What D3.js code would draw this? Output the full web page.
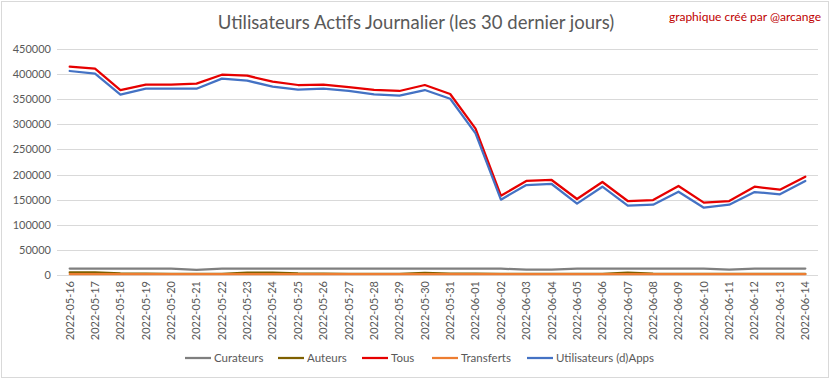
<!DOCTYPE html>
<html><head><meta charset="utf-8">
<script src="https://cdn.jsdelivr.net/npm/d3@7"></script>
<style>body{margin:0;background:#fff}svg{display:block}</style>
</head><body><svg id="c" width="833" height="379"></svg>
<script>
const dates = ["2022-05-16","2022-05-17","2022-05-18","2022-05-19","2022-05-20","2022-05-21","2022-05-22","2022-05-23","2022-05-24","2022-05-25","2022-05-26","2022-05-27","2022-05-28","2022-05-29","2022-05-30","2022-05-31","2022-06-01","2022-06-02","2022-06-03","2022-06-04","2022-06-05","2022-06-06","2022-06-07","2022-06-08","2022-06-09","2022-06-10","2022-06-11","2022-06-12","2022-06-13","2022-06-14"];
const curateurs = [12800,12700,12600,12600,12500,10300,12500,12700,12700,12600,12600,12500,12500,12500,12600,12500,12500,12500,10600,10500,12600,12600,12600,12600,12600,12500,10600,12600,12700,12700];
const auteurs = [5400,5200,3000,2500,2400,2300,2400,4500,4800,3000,2500,2400,2400,2400,4000,2600,2800,2200,2200,2200,2200,2300,4500,2600,2300,2200,2200,2200,2200,2200];
const tous = [414700,410800,368300,379000,379000,381000,398800,396800,384900,378300,379000,374300,368400,366400,378300,360400,291300,157900,187200,189200,151300,185200,147300,149300,177200,144000,147300,175800,169900,195700];
const transferts = [1800,1800,1700,1700,1700,1700,1700,1700,1700,1700,1700,1700,1700,1700,1700,1700,1700,1700,1700,1700,1700,1700,1700,1700,1700,1700,1700,1700,1700,1700];
const utilisateurs = [406200,400800,359000,371000,371000,371000,391000,386900,375000,369000,371000,366400,359700,357000,368300,351000,282100,150000,179200,181200,142000,175800,138000,140000,165900,134000,140000,165200,160600,187200];
const yTicks = [0,50000,100000,150000,200000,250000,300000,350000,400000,450000];

const series = [
  {name:"Curateurs", values:curateurs, color:"#7f7f7f"},
  {name:"Auteurs", values:auteurs, color:"#7f6000"},
  {name:"Tous", values:tous, color:"#e60000"},
  {name:"Transferts", values:transferts, color:"#ed7d31"},
  {name:"Utilisateurs (d)Apps", values:utilisateurs, color:"#4472c4"}
];

const svg = d3.select("#c");
const font = "Lato, 'Open Sans', sans-serif";
svg.append("rect").attr("x",1.5).attr("y",1.5).attr("width",827).attr("height",376)
  .attr("fill","#fff").attr("stroke","#d9d9d9");

const x = d3.scaleBand().domain(dates).range([57,818]);
const y = d3.scaleLinear().domain([0,450000]).range([275,49]);

// grid
svg.append("g").selectAll("line").data(yTicks).join("line")
  .attr("x1",57).attr("x2",818)
  .attr("y1",d=>Math.round(y(d))+0.5).attr("y2",d=>Math.round(y(d))+0.5)
  .attr("stroke","#d9d9d9").attr("stroke-width",1);

// y labels
const ya = svg.append("g").attr("transform","translate(51,0)")
  .call(d3.axisLeft(y).tickValues(yTicks).tickSize(0).tickPadding(0).tickFormat(d3.format("d")));
ya.select(".domain").remove();
ya.selectAll("text").attr("font-family",font).attr("font-size",11).attr("fill","#595959");

// x labels
const xa = svg.append("g").attr("transform","translate(0,281)")
  .call(d3.axisBottom(x).tickSize(0).tickPadding(0));
xa.select(".domain").remove();
xa.selectAll("text").attr("font-family",font).attr("font-size",11).attr("fill","#595959")
  .attr("text-anchor","end").attr("dy","0.35em")
  .attr("transform","rotate(-90)").attr("x",0).attr("y",0);

// lines
const line = d3.line().x((d,i)=>x(dates[i])+x.bandwidth()/2).y(d=>y(d));
svg.append("g").selectAll("path").data(series).join("path")
  .attr("d",s=>line(s.values)).attr("fill","none")
  .attr("stroke",s=>s.color).attr("stroke-width",2.25)
  .attr("stroke-linejoin","round").attr("stroke-linecap","round");

// title
svg.append("text").attr("x",416).attr("y",29).attr("text-anchor","middle")
  .attr("font-family",font).attr("font-size",18.5).attr("fill","#595959")
  .text("Utilisateurs Actifs Journalier (les 30 dernier jours)");
svg.append("text").attr("x",821).attr("y",21).attr("text-anchor","end")
  .attr("font-family",font).attr("font-size",12).attr("fill","#c00000")
  .text("graphique créé par @arcange");

// legend
const legX = [185,278,362,432,527];
const lg = svg.append("g").selectAll("g").data(series).join("g")
  .attr("transform",(d,i)=>`translate(${legX[i]},358)`);
lg.append("line").attr("x1",0).attr("x2",26).attr("y1",0).attr("y2",0)
  .attr("stroke",d=>d.color).attr("stroke-width",2.25);
lg.append("text").attr("x",29).attr("y",0).attr("dy","0.35em")
  .attr("font-family",font).attr("font-size",11.5).attr("fill","#595959").text(d=>d.name);
</script></body></html>
